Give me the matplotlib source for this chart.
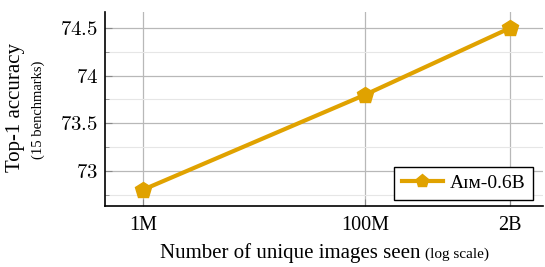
import numpy as np
import matplotlib
matplotlib.use("Agg")
from matplotlib import pyplot as plt
from matplotlib.ticker import FixedLocator, NullFormatter

# data
images_seen = [1e6, 1e8, 2e9]
accuracy = [72.8, 73.8, 74.5]
x_ticks = [1e6, 1e8, 2e9]
x_tick_labels = ["1M", "100M", "2B"]
y_ticks = [73, 73.5, 74, 74.5]
y_tick_labels = ["73", "73.5", "74", "74.5"]
y_minor = [72.75, 73.25, 73.75, 74.25]

GOLD = "#E0A200"

plt.rcParams["font.family"] = ["Liberation Serif", "DejaVu Serif"]
plt.rcParams["mathtext.fontset"] = "cm"

fig = plt.figure(figsize=(5.45, 2.67), dpi=100)
ax = fig.add_axes([105 / 545, 1 - 206 / 267, (543 - 105) / 545, (206 - 12) / 267])

ax.plot(images_seen, accuracy, color=GOLD, lw=3.0, marker="p", ms=12,
        label="A\u026a\u1d0d-0.6B", zorder=3)

ax.set_xscale("log")
ax.set_xlim(10 ** 5.66, 10 ** 9.6)
ax.set_ylim(72.63, 74.67)

ax.set_xticks(x_ticks)
ax.set_xticklabels(x_tick_labels)
ax.xaxis.set_minor_locator(FixedLocator([]))
ax.xaxis.set_minor_formatter(NullFormatter())

ax.set_yticks(y_ticks)
ax.set_yticklabels(["$" + t + "$" for t in y_tick_labels])
ax.set_yticks(y_minor, minor=True)

ax.grid(True, which="major", color="#b8b8b8", lw=0.9)
ax.grid(True, which="minor", axis="y", color="#e6e6e6", lw=0.8)
ax.set_axisbelow(True)

ax.tick_params(which="both", direction="in", color="#888888")
ax.tick_params(axis="y", labelsize=15, pad=5)
ax.tick_params(axis="x", labelsize=14.5, pad=7)
ax.tick_params(which="major", length=5)
ax.tick_params(which="minor", length=3)

for s in ["top", "right"]:
    ax.spines[s].set_visible(False)
for s in ["left", "bottom"]:
    ax.spines[s].set_linewidth(1.2)

# axis labels with a smaller note next to them
fig.text(421 / 545, 9 / 267, "Number of unique images seen", fontsize=15,
         ha="right", va="baseline")
fig.text(425 / 545, 9 / 267, "(log scale)", fontsize=11,
         ha="left", va="baseline")

fig.text(16 / 545, 1 - 107 / 267, "Top-1 accuracy", fontsize=15, rotation=90,
         ha="center", va="center")
fig.text(38 / 545, 1 - 110 / 267, "(15 benchmarks)", fontsize=10.5, rotation=90,
         ha="center", va="center")

leg = ax.legend(loc="lower right", bbox_to_anchor=(0.977, 0.031), fontsize=14,
                fancybox=False, framealpha=1, edgecolor="black",
                handlelength=2.1, handletextpad=0.35, borderpad=0.4,
                borderaxespad=0, markerscale=0.8)
leg.get_frame().set_linewidth(1.0)

fig.savefig("out.png", dpi=100)
